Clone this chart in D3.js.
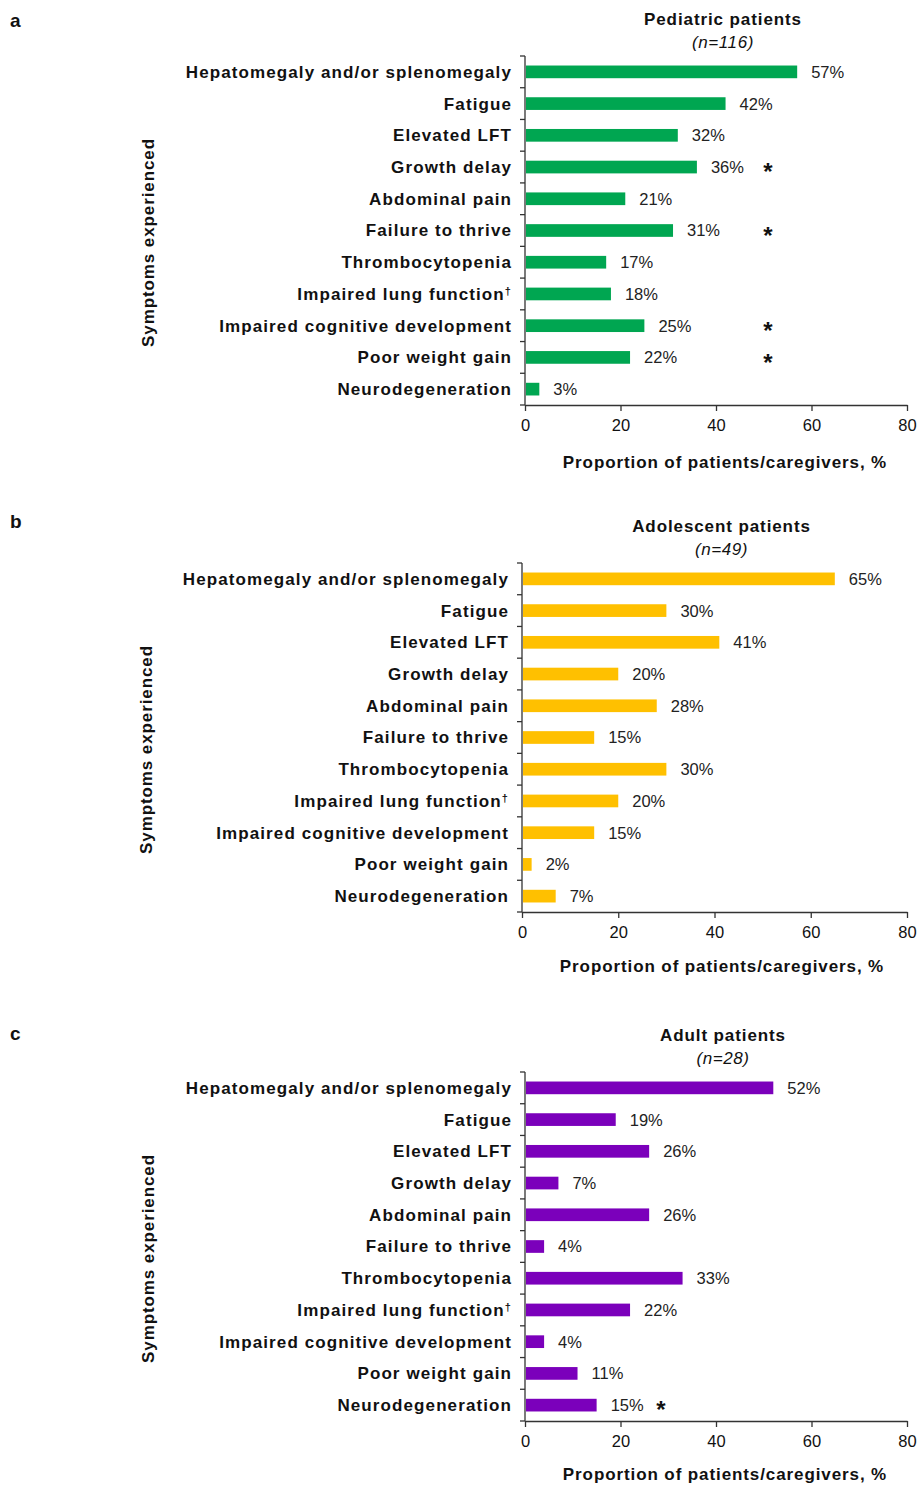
<!DOCTYPE html>
<html>
<head>
<meta charset="utf-8">
<script src="https://cdn.jsdelivr.net/npm/d3@7"></script>
<style>
  html, body { margin: 0; padding: 0; background: #fff; }
  svg { display: block; }
  text { font-family: "Liberation Sans", Arial, sans-serif; fill: #111; }
  .bold { font-weight: bold; letter-spacing: 0.9px; }
  .cat { letter-spacing: 1.1px; }
</style>
</head>
<body>
<script>
// Symptom categories shared by all three panels (top to bottom)
const symptoms = [
  "Hepatomegaly and/or splenomegaly",
  "Fatigue",
  "Elevated LFT",
  "Growth delay",
  "Abdominal pain",
  "Failure to thrive",
  "Thrombocytopenia",
  "Impaired lung function",
  "Impaired cognitive development",
  "Poor weight gain",
  "Neurodegeneration"
];

// Proportion of patients/caregivers reporting each symptom, %
const pediatricValues  = [57, 42, 32, 36, 21, 31, 17, 18, 25, 22, 3];
const adolescentValues = [65, 30, 41, 20, 28, 15, 30, 20, 15, 2, 7];
const adultValues      = [52, 19, 26, 7, 26, 4, 33, 22, 4, 11, 15];

// Symptoms flagged with an asterisk in each group
const pediatricStars  = [false, false, false, true, false, true, false, false, true, true, false];
const adolescentStars = [false, false, false, false, false, false, false, false, false, false, false];
const adultStars      = [false, false, false, false, false, false, false, false, false, false, true];

const xTicks = [0, 20, 40, 60, 80];

const panels = [
  { letter: "a", title: "Pediatric patients", n: "116", values: pediatricValues, stars: pediatricStars,
    x0: 525, top: 56, bottom: 405, starX: 768, letterY: 20, yTitleX: 148, xTitleGap: 57 },
  { letter: "b", title: "Adolescent patients", n: "49", values: adolescentValues, stars: adolescentStars,
    x0: 522, top: 563, bottom: 912, starX: null, letterY: 521, yTitleX: 146, xTitleGap: 54 },
  { letter: "c", title: "Adult patients", n: "28", values: adultValues, stars: adultStars,
    x0: 525, top: 1072, bottom: 1421, starX: 661, letterY: 1033, yTitleX: 148, xTitleGap: 53 }
];

const colors = { a: "#00a651", b: "#ffc000", c: "#7b00bb" };

const svg = d3.select("body").append("svg")
  .attr("width", 921).attr("height", 1485);

panels.forEach(p => {
  const g = svg.append("g");
  const x = d3.scaleLinear().domain([0, 80]).range([p.x0, 907]);
  const y = d3.scaleBand().domain(symptoms).range([p.top, p.bottom]).paddingInner(0.6).paddingOuter(0.3);
  const step = y.step();

  // panel letter
  g.append("text").attr("x", 10).attr("y", p.letterY)
    .attr("dy", "0.35em").style("font-size", "19px").style("font-weight", "bold").text(p.letter);

  // panel title and sample size
  const cx = (x(0) + x(80)) / 2 + 7;
  g.append("text").attr("class", "bold").attr("x", cx).attr("y", p.top - 37)
    .attr("dy", "0.35em").attr("text-anchor", "middle").style("font-size", "17px").text(p.title);
  g.append("text").attr("x", cx).attr("y", p.top - 14)
    .attr("dy", "0.35em").attr("text-anchor", "middle")
    .style("font-size", "17px").style("font-style", "italic").style("letter-spacing", "0.6px")
    .text("(n=" + p.n + ")");

  // bars
  g.selectAll("rect.bar").data(symptoms).join("rect")
    .attr("class", "bar")
    .attr("x", x(0) + 1)
    .attr("y", d => y(d))
    .attr("width", (d, i) => Math.max(0, x(p.values[i]) - x(0) - 1))
    .attr("height", y.bandwidth())
    .attr("fill", colors[p.letter]);

  // value labels
  g.selectAll("text.val").data(symptoms).join("text")
    .attr("class", "val")
    .attr("x", (d, i) => x(p.values[i]) + 14)
    .attr("y", d => y(d) + y.bandwidth() / 2)
    .attr("dy", "0.36em")
    .style("font-size", "16.5px").style("fill", "#222")
    .text((d, i) => p.values[i] + "%");

  // asterisks
  if (p.starX !== null) {
    g.selectAll("text.star").data(symptoms.filter((d, i) => p.stars[i])).join("text")
      .attr("class", "star")
      .attr("x", p.starX).attr("y", d => y(d) + y.bandwidth() / 2)
      .attr("dy", "0.55em").attr("text-anchor", "middle")
      .style("font-size", "24px").style("font-weight", "bold").text("*");
  }

  // y axis: vertical line with ticks at category boundaries
  const boundaries = d3.range(symptoms.length + 1).map(i => p.top + i * step);
  g.append("line").attr("x1", x(0)).attr("x2", x(0)).attr("y1", p.top).attr("y2", p.bottom)
    .attr("stroke", "#333").attr("stroke-width", 1.3);
  g.selectAll("line.ytick").data(boundaries).join("line")
    .attr("class", "ytick")
    .attr("x1", x(0) - 5).attr("x2", x(0)).attr("y1", d => d).attr("y2", d => d)
    .attr("stroke", "#333").attr("stroke-width", 1.3);

  // category labels
  const labels = g.selectAll("text.cat").data(symptoms).join("text")
    .attr("class", "bold cat")
    .attr("x", x(0) - 13)
    .attr("y", d => y(d) + y.bandwidth() / 2)
    .attr("dy", "0.35em").attr("text-anchor", "end")
    .style("font-size", "17px");
  labels.each(function(d) {
    const t = d3.select(this);
    t.append("tspan").text(d);
    if (d === "Impaired lung function") {
      t.append("tspan").attr("dy", "-0.45em").style("font-size", "11px").text("†");
    }
  });

  // x axis
  const xAxis = d3.axisBottom(x).tickValues(xTicks).tickSize(6).tickSizeOuter(0).tickPadding(8);
  const ax = g.append("g").attr("transform", `translate(0,${p.bottom})`).call(xAxis);
  ax.select(".domain").attr("stroke", "#333").attr("stroke-width", 1.3);
  ax.selectAll(".tick line").attr("stroke", "#333").attr("stroke-width", 1.3);
  ax.selectAll(".tick text").style("font-size", "16.5px")
    .style("font-family", "'Liberation Sans', Arial, sans-serif").attr("fill", "#222");

  // axis titles
  g.append("text").attr("class", "bold").attr("x", x(0) + 200).attr("y", p.bottom + p.xTitleGap)
    .attr("dy", "0.35em").attr("text-anchor", "middle").style("font-size", "17px")
    .text("Proportion of patients/caregivers, %");

  g.append("text").attr("class", "bold")
    .attr("transform", `translate(${p.yTitleX},${(p.top + p.bottom) / 2 + 12}) rotate(-90)`)
    .attr("dy", "0.35em").attr("text-anchor", "middle").style("font-size", "17px")
    .text("Symptoms experienced");
});
</script>
</body>
</html>
